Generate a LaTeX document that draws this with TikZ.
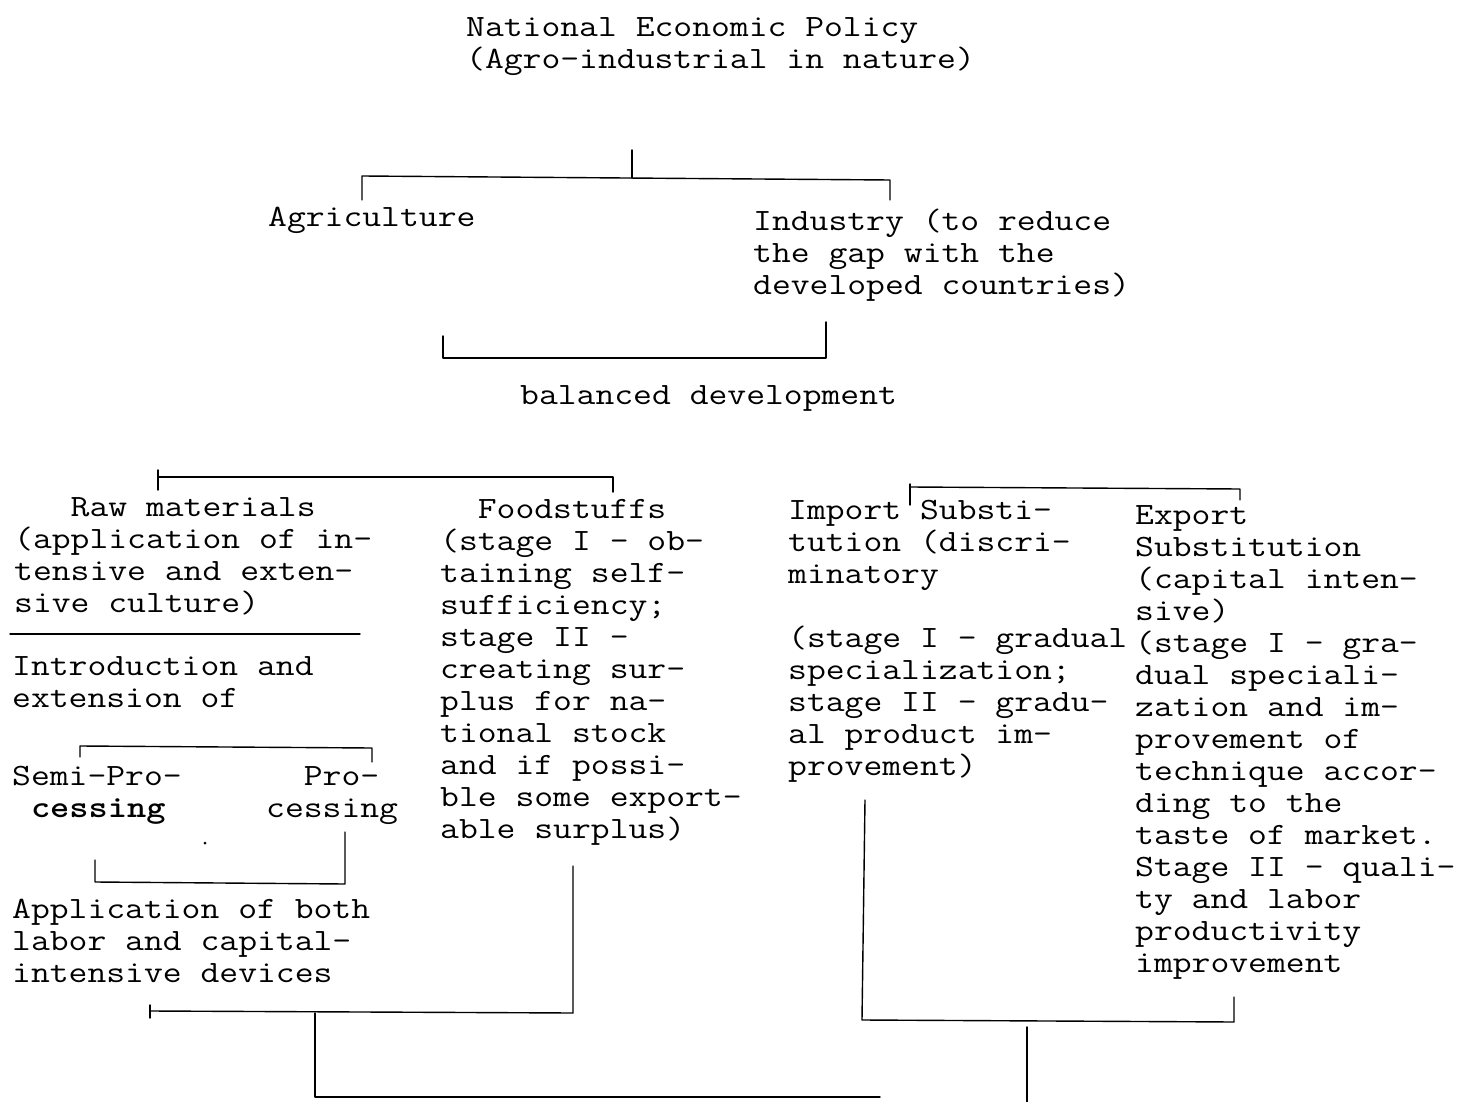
\documentclass[tikz,border=0pt]{standalone}
\usepackage{graphicx}
\newcommand{\twblock}[1]{\scalebox{1.18}[1]{\begin{tabular}[t]{@{}l@{}}#1\end{tabular}}}
\tikzset{
  tw/.style={anchor=base west, inner sep=0pt, font=\fontsize{31}{32}\selectfont\ttfamily},
  link/.style={line width=1.4pt, line cap=round, line join=round}
}
\begin{document}
\begin{tikzpicture}[x=1pt,y=-1pt]
\useasboundingbox[fill=white] (0,0) rectangle (1460,1102);
% texts
\node[tw] (title) at (466,37) {\twblock{National Economic Policy\\(Agro-industrial in nature)}};
\node[tw] (agr) at (268,227) {\twblock{Agriculture}};
\node[tw] (ind) at (753,231) {\twblock{Industry (to reduce\\the gap with the\\developed countries)}};
\node[tw] (bal) at (520,404) {\twblock{balanced development}};
\node[tw] (raw) at (14,516) {\twblock{\phantom{xxx}Raw materials\\(application of in-\\tensive and exten-\\sive culture)}};
\node[tw] (intro) at (12,675) {\twblock{Introduction and\\extension of}};
\node[tw] (semi) at (12,785) {\twblock{Semi-Pro-\\\phantom{x}\bfseries cessing}};
\node[tw] (proc) at (266,785) {\twblock{\phantom{xx}Pro-\\cessing}};
\node[tw] (app) at (12,918) {\twblock{Application of both\\labor and capital-\\intensive devices}};
\node[tw] (food) at (440,518) {\twblock{\phantom{xx}Foodstuffs\\(stage I - ob-\\taining self-\\sufficiency;\\stage II -\\creating sur-\\plus for na-\\tional stock\\and if possi-\\ble some export-\\able surplus)}};
\node[tw] (imp) at (788,519) {\twblock{Import Substi-\\tution (discri-\\minatory\\ \\(stage I - gradual\\specialization;\\stage II - gradu-\\al product im-\\provement)}};
\node[tw] (exp) at (1135,524) {\twblock{Export\\Substitution\\(capital inten-\\sive)\\(stage I - gra-\\dual speciali-\\zation and im-\\provement of\\technique accor-\\ding to the\\taste of market.\\Stage II - quali-\\ty and labor\\productivity\\improvement}};
% junction coordinates
\coordinate (t0) at (632,150);
\coordinate (t1) at (632,178);
\coordinate (tl) at (362,176);
\coordinate (tr) at (890,180);
\draw[link] (t0) -- (t1);
\draw[link] (362,200) -- (tl) -- (tr) -- (890,200);
\draw[link] (443,336) -- (443,358) -- (826,358) -- (826,322);
\draw[link] (158,470) -- (158,490);
\draw[link] (158,477) -- (613,477) -- (613,492);
\draw[link] (910,484) -- (910,505);
\draw[link] (910,487) -- (1240,489) -- (1240,500);
\draw[link] (10,634) -- (360,634);
\draw[link] (80,757) -- (80,746) -- (372,748) -- (372,762);
\draw[link] (95,860) -- (95,882) -- (345,884) -- (345,832);
\fill (205,843) circle (1.5);
\draw[link] (150,1005) -- (150,1018);
\draw[link] (150,1011) -- (573,1013) -- (573,866);
\draw[link] (315,1013) -- (315,1097) -- (880,1097);
\draw[link] (865,800) -- (862,1020) -- (1234,1022) -- (1234,997);
\draw[link] (1027,1027) -- (1027,1102);
\end{tikzpicture}
\end{document}
